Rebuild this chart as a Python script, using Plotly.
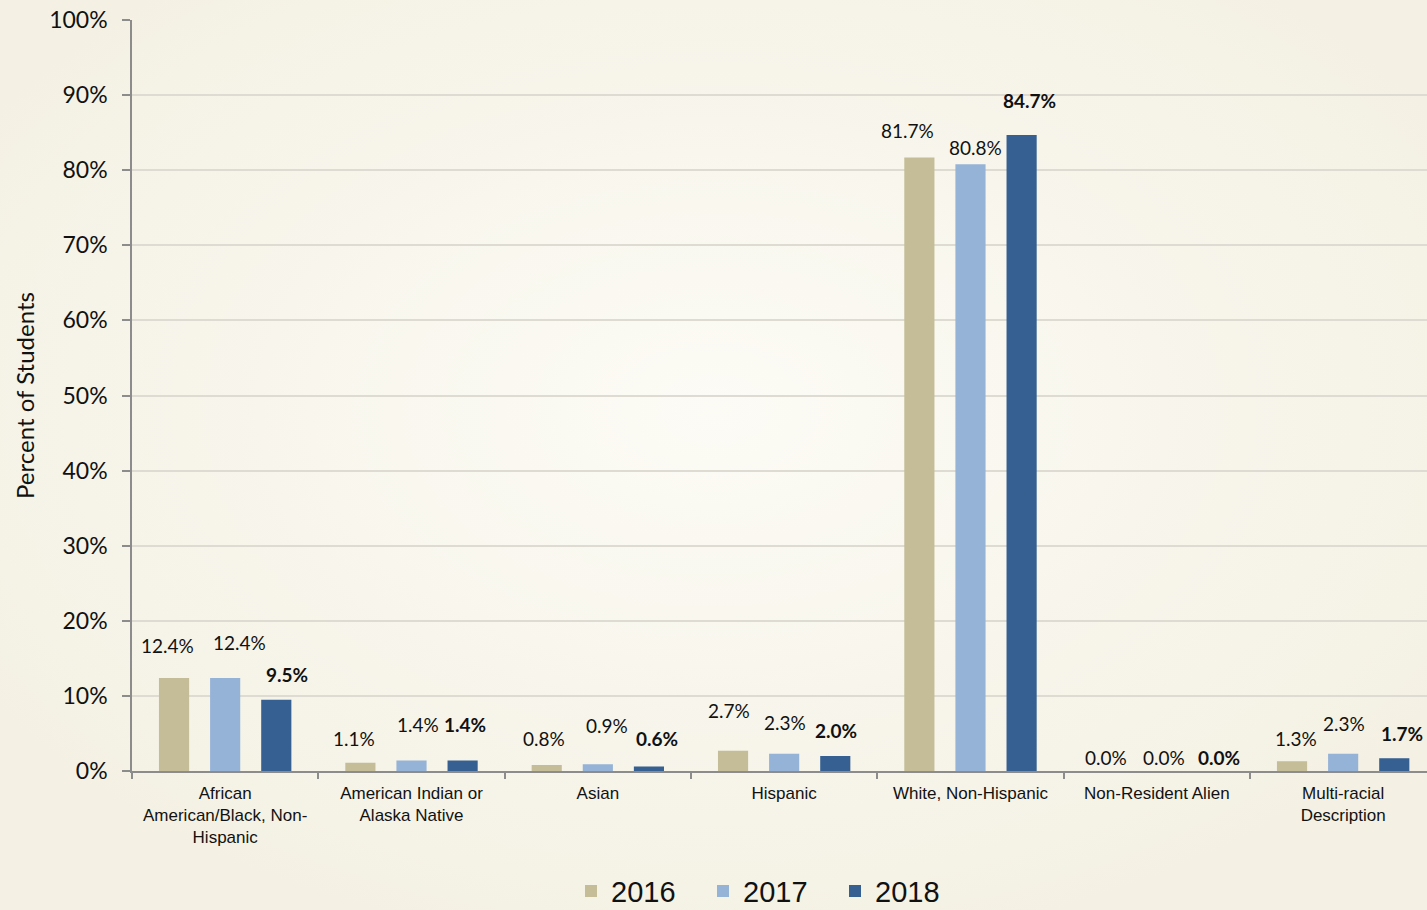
import base64
import plotly.graph_objects as go

categories = [
    "African<br>American/Black, Non-<br>Hispanic",
    "American Indian or<br>Alaska Native",
    "Asian",
    "Hispanic",
    "White, Non-Hispanic",
    "Non-Resident Alien",
    "Multi-racial<br>Description",
]
years = ["2016", "2017", "2018"]
v2016 = [12.4, 1.1, 0.8, 2.7, 81.7, 0.0, 1.3]
v2017 = [12.4, 1.4, 0.9, 2.3, 80.8, 0.0, 2.3]
v2018 = [9.5, 1.4, 0.6, 2.0, 84.7, 0.0, 1.7]
y_ticks = [0, 10, 20, 30, 40, 50, 60, 70, 80, 90, 100]
y_tick_labels = [f"{t}%" for t in y_ticks]

series = [v2016, v2017, v2018]
colors = ["#C4BD97", "#95B3D7", "#376092"]

# label nudges (px) relative to bar top, per series
label_dx = [
    [-7, -7, -3, -4, -12, 0, 4],
    [14, 6, 9, 1, 5, 7, 1],
    [11, 2, 8, 1, 8, 11, 8],
]
label_dy = [
    [32, 24, 26, 40, 27, 14, 23],
    [35, 36, 39, 31, 17, 14, 30],
    [25, 36, 28, 25, 34, 14, 25],
]
slot_px = 51

fig = go.Figure()
for name, vals, col in zip(years, series, colors):
    fig.add_trace(go.Bar(x=categories, y=vals, name=name, marker=dict(color=col, line=dict(width=0))))

annotations = []
for j, vals in enumerate(series):
    for i, v in enumerate(vals):
        txt = f"{v:.1f}%"
        if j == 2:
            txt = f"<b>{txt}</b>"
        annotations.append(dict(
            x=categories[i], y=v, xref="x", yref="y", text=txt, showarrow=False,
            xshift=(j - 1) * slot_px + label_dx[j][i], yshift=label_dy[j][i],
            yanchor="middle", xanchor="center",
            font=dict(family="Lato, Carlito, sans-serif", size=19, color="#111111"),
        ))

svg = ('<svg xmlns="http://www.w3.org/2000/svg" width="1427" height="910">'
       '<defs><radialGradient id="g" cx="50%" cy="45%" r="60%">'
       '<stop offset="0%" stop-color="#FCFBF5"/>'
       '<stop offset="100%" stop-color="#F4F1E4"/></radialGradient></defs>'
       '<rect width="1427" height="910" fill="url(#g)"/></svg>')
src = "data:image/svg+xml;base64," + base64.b64encode(svg.encode()).decode()

W, H = 1427, 910
ml, mr, mt, mb = 132, 0, 20, 139
pw, ph = W - ml - mr, H - mt - mb

fig.update_layout(
    width=W, height=H,
    margin=dict(l=ml, r=mr, t=mt, b=mb, autoexpand=False),
    paper_bgcolor="#F5F2E6",
    plot_bgcolor="rgba(0,0,0,0)",
    barmode="group",
    bargap=0.177,
    bargroupgap=0.41,
    annotations=annotations,
    images=[dict(source=src, xref="paper", yref="paper",
                 x=-ml / pw, y=1 + mt / ph, sizex=W / pw, sizey=H / ph,
                 xanchor="left", yanchor="top", sizing="stretch", layer="below")],
    showlegend=True,
    legend=dict(orientation="h", x=(571 - ml) / pw, y=-0.126, xanchor="left", yanchor="top",
                font=dict(family="Liberation Sans, Arial, sans-serif", size=29, color="#111111"),
                bgcolor="rgba(0,0,0,0)", entrywidth=87, entrywidthmode="pixels",
                traceorder="normal"),
    xaxis=dict(
        range=[-0.5, 6.45],
        showline=True, linecolor="#8C8C8C", linewidth=1.5,
        ticks="outside", tickson="boundaries", ticklen=6, tickcolor="#8C8C8C", tickwidth=1.5,
        showgrid=False,
        tickfont=dict(family="Liberation Sans, Arial, sans-serif", size=17, color="#111111"),
        tickangle=0, ticklabelstandoff=6,
    ),
    yaxis=dict(
        range=[0, 100],
        tickvals=y_ticks, ticktext=y_tick_labels,
        showline=True, linecolor="#8C8C8C", linewidth=1.5,
        ticks="outside", ticklen=8, tickcolor="#8C8C8C", tickwidth=1.5,
        showgrid=True, gridcolor="#DEDBD2", gridwidth=1.5,
        zeroline=False,
        tickfont=dict(family="Lato, Carlito, sans-serif", size=23, color="#111111"),
        ticklabelstandoff=10,
        title=dict(text="Percent of Students", standoff=8,
                   font=dict(family="Lato, Carlito, sans-serif", size=24, color="#111111")),
    ),
)

fig.write_html("out.html", config={"displayModeBar": False},
               post_script="document.body.style.margin='0';document.body.style.overflow='hidden';")
